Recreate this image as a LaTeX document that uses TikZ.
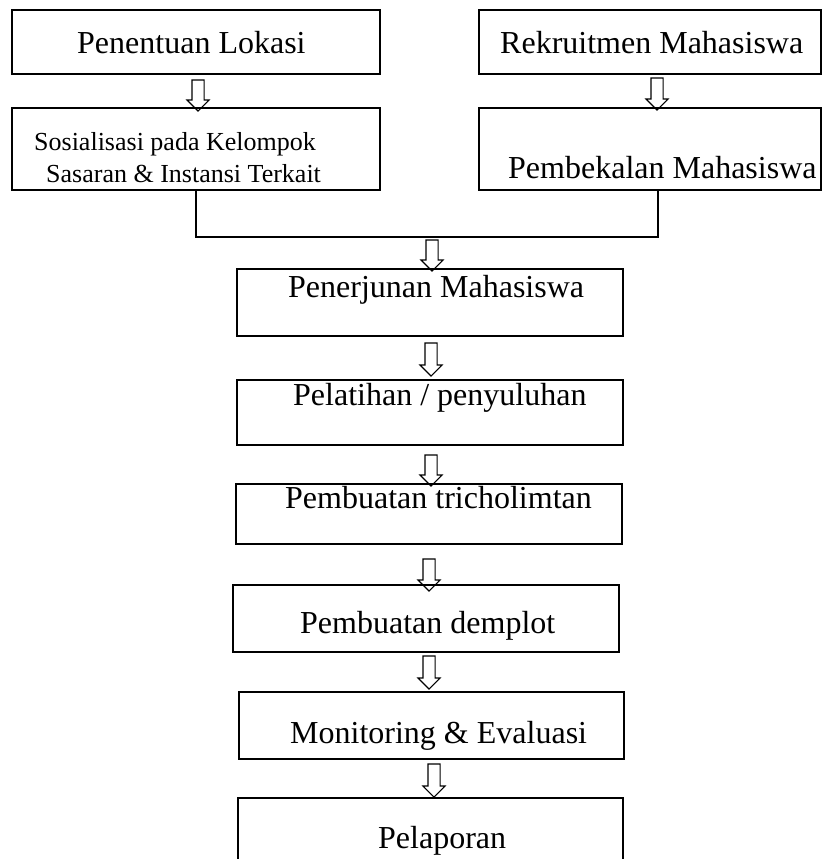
\documentclass[tikz,border=0pt]{standalone}
\usepackage{fontspec}
\setmainfont{Liberation Serif}
\usetikzlibrary{shapes.arrows,calc}
\begin{document}
\begin{tikzpicture}[x=1pt,y=-1pt,
  box/.style={draw, line width=1.5pt, rectangle, inner sep=0pt},
  openbox/.style={rectangle, inner sep=0pt},
  lbl/.style={anchor=base west, inner sep=0pt, font=\fontsize{32}{38}\selectfont},
  slbl/.style={anchor=base west, inner sep=0pt, font=\fontsize{26}{31}\selectfont},
  barrow/.style={single arrow, draw, line width=1.1pt, rotate=-90, inner sep=5.5pt,
    single arrow head extend=5pt, single arrow tip angle=90, minimum width=21pt},
  conn/.style={line width=1.5pt}]
\useasboundingbox (0,0) rectangle (822,859);
% boxes
\node[box, minimum width=368, minimum height=64] (A) at (196,42) {};
\node[box, minimum width=342, minimum height=64] (B) at (650,42) {};
\node[box, minimum width=368, minimum height=82] (C) at (196,149) {};
\node[box, minimum width=342, minimum height=82] (D) at (650,149) {};
\node[box, minimum width=386, minimum height=67] (E) at (430,302.5) {};
\node[box, minimum width=386, minimum height=65] (F) at (430,412.5) {};
\node[box, minimum width=386, minimum height=60] (G) at (429,514) {};
\node[box, minimum width=386, minimum height=67] (H) at (426,618.5) {};
\node[box, minimum width=385, minimum height=67] (I) at (431.5,725.5) {};
\node[openbox, minimum width=385, minimum height=66] (J) at (430.5,831) {};
\draw[conn] (J.south west) -- (J.north west) -- (J.north east) -- (J.south east);
% texts
\node[lbl] (tA) at (77,54) {Penentuan Lokasi};
\node[slbl] (tC1) at (34,150) {Sosialisasi pada Kelompok};
\node[slbl] (tC2) at (46,182) {Sasaran \& Instansi Terkait};
\node[lbl] (tB) at (500,53) {Rekruitmen Mahasiswa};
\node[lbl] (tD) at (508,178) {Pembekalan Mahasiswa};
\node[lbl] (tE) at (288,297) {Penerjunan Mahasiswa};
\node[lbl] (tF) at (293,405) {Pelatihan / penyuluhan};
\node[lbl] (tG) at (285,508) {Pembuatan tricholimtan};
\node[lbl] (tH) at (300,633) {Pembuatan demplot};
\node[lbl] (tI) at (290,743) {Monitoring \& Evaluasi};
\node[lbl] (tJ) at (378,848) {Pelaporan};
% merge connector
\coordinate (M) at (432,237);
\draw[conn] (C.south) -- (C.south |- M) -- ([xshift=8]D.south |- M) -- ([xshift=8]D.south);
% block arrows
\node[barrow, minimum height=31] (a1) at (198,92.5) {};
\node[barrow, minimum height=32] (a2) at (657,91) {};
\node[barrow, minimum height=31] (a3) at ($(M)+(0,15.5)$) {};
\node[barrow, minimum height=33] (a4) at (431,356.5) {};
\node[barrow, minimum height=31] (a5) at (431,467.5) {};
\node[barrow, minimum height=32] (a6) at (429,572) {};
\node[barrow, minimum height=33] (a7) at (429,669.5) {};
\node[barrow, minimum height=33] (a8) at (434,777.5) {};
\end{tikzpicture}
\end{document}
